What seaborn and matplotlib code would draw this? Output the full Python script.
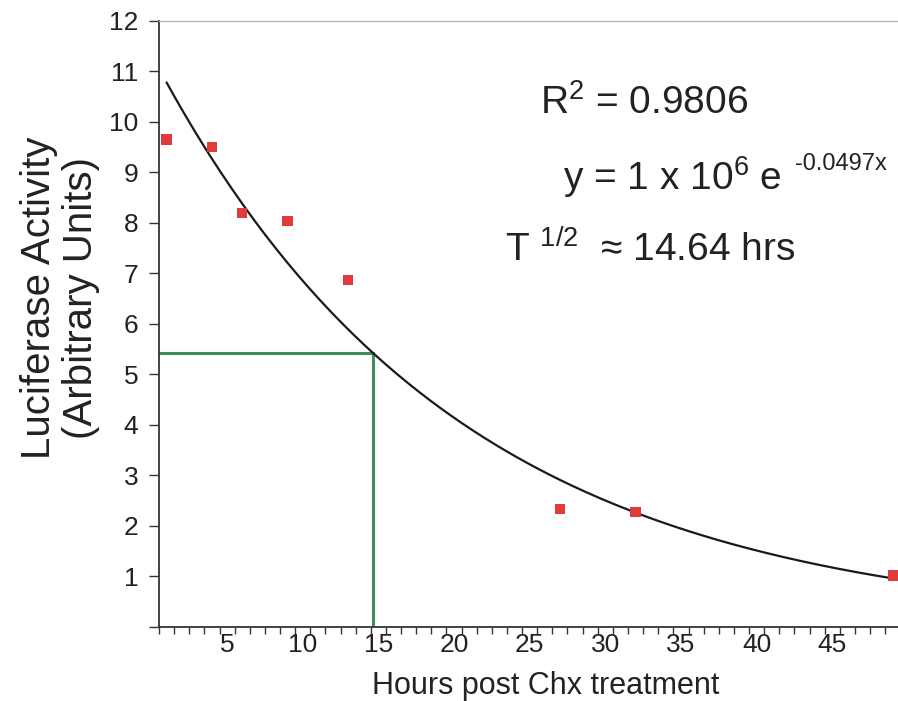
import numpy as np
import pandas as pd
import matplotlib
matplotlib.use('Agg')
import matplotlib.pyplot as plt
import seaborn as sns
from matplotlib.ticker import FixedLocator, NullFormatter

# Luciferase readings after Chx treatment
hours = [1, 4, 6, 9, 13, 27, 32, 49]
activity = [9.65, 9.50, 8.19, 8.03, 6.87, 2.34, 2.28, 1.02]

half_life = 14.64
x_ticks = [5, 10, 15, 20, 25, 30, 35, 40, 45]
y_ticks = [0, 1, 2, 3, 4, 5, 6, 7, 8, 9, 10, 11, 12]

df = pd.DataFrame({'hours': hours, 'activity': activity})

# exponential trendline fitted to the points (log-linear fit)
slope, intercept = np.polyfit(df['hours'], np.log(df['activity']), 1)
fit_x = np.linspace(min(hours), max(hours), 200)
fit_df = pd.DataFrame({'hours': fit_x, 'activity': np.exp(intercept + slope * fit_x)})
y_half = np.exp(intercept + slope * half_life)

sns.set_style('white')
plt.rcParams['font.family'] = ['Liberation Sans', 'DejaVu Sans']
plt.rcParams['mathtext.default'] = 'regular'

fig = plt.figure(figsize=(8.98, 7.01), dpi=100)
ax = fig.add_axes([159 / 898, 1 - 627 / 701, (900.3 - 159) / 898, (627 - 20.7) / 701])

# green half-life guide lines
ax.plot([0.5, half_life], [y_half, y_half], color='#3f8f5c', lw=2.2, zorder=1)
ax.plot([half_life, half_life], [0, y_half], color='#3f8f5c', lw=2.2, zorder=1)

sns.lineplot(data=fit_df, x='hours', y='activity', color='#1a1a1a', lw=1.6, ax=ax, zorder=2)
sns.scatterplot(data=df, x='hours', y='activity', marker='s', s=55, color='#e03a3a',
                edgecolor='none', ax=ax, zorder=3)

ax.set_xlim(0.5, 49.5)
ax.set_ylim(0, 12)

# category-style x axis: labels on integers, ticks between categories
ax.set_xticks(x_ticks)
ax.set_xticklabels([str(t) for t in x_ticks], fontsize=19, color='#222222')
ax.xaxis.set_minor_locator(FixedLocator(np.arange(0.5, 50, 1)))
ax.xaxis.set_minor_formatter(NullFormatter())
ax.tick_params(axis='x', which='major', length=0, pad=4)
ax.tick_params(axis='x', which='minor', length=5, width=1, direction='out', color='#333333', bottom=True)

ax.set_yticks(y_ticks)
ax.set_yticklabels([''] + [str(t) for t in y_ticks[1:]], fontsize=19, color='#222222')
ax.tick_params(axis='y', length=7, width=1, direction='out', color='#333333', left=True, pad=8)

for side in ['left', 'bottom']:
    ax.spines[side].set_color('#333333')
    ax.spines[side].set_linewidth(1.3)
ax.spines['right'].set_visible(False)
ax.spines['top'].set_color('#b5b5b5')
ax.spines['top'].set_linewidth(1.0)

ax.set_xlabel('')
ax.set_ylabel('')
fig.text(546 / 898, 1 - 686 / 701, 'Hours post Chx treatment', fontsize=22,
         ha='center', va='center', color='#222222')
fig.text(60 / 898, 1 - 298 / 701, 'Luciferase Activity\n(Arbitrary Units)', fontsize=29,
         rotation=90, ha='center', va='center', multialignment='center', linespacing=1.1,
         color='#222222')

# annotations
fig.text(540 / 898, 1 - 114 / 701, r'R$^2$ = 0.9806', fontsize=28, va='baseline', color='#222222')
fig.text(563 / 898, 1 - 190 / 701, r'y = 1 x 10$^6$ e', fontsize=28, va='baseline', color='#222222')
fig.text(795 / 898, 1 - 170 / 701, '-0.0497x', fontsize=17, va='baseline', color='#222222')
fig.text(505 / 898, 1 - 262 / 701, r'T $^{1/2}$  ≈ 14.64 hrs', fontsize=28, va='baseline',
         color='#222222')

fig.savefig('out.png', dpi=100)
